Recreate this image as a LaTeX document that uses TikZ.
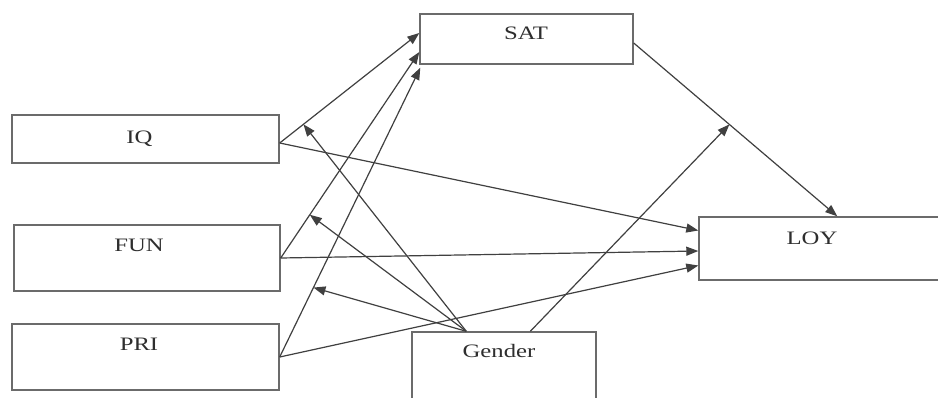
\documentclass[tikz,border=0pt]{standalone}
\usepackage{fontspec}
\setmainfont{Liberation Serif}
\usetikzlibrary{arrows.meta,calc}
\definecolor{boxgray}{gray}{0.42}
\definecolor{linegray}{gray}{0.25}
\definecolor{textgray}{gray}{0.18}
\newcommand\wide[1]{\scalebox{1.3}[1]{#1}}
\begin{document}
\begin{tikzpicture}[x=1pt,y=-1pt,
  box/.style={draw=boxgray,line width=1.4pt,inner sep=0pt},
  lbl/.style={text=textgray,font=\fontsize{19}{19}\selectfont,inner sep=0pt,anchor=base},
  arr/.style={draw=linegray,line width=1.2pt,-{Triangle[length=12pt,width=9pt]}},
  ln/.style={draw=linegray,line width=1.2pt}]
\useasboundingbox[fill=white] (0,0) rectangle (938,397);

% boxes
\node[box,minimum width=267pt,minimum height=48pt] (iq) at (145.5,139) {};
\node[box,minimum width=266pt,minimum height=66pt] (fun) at (147,258) {};
\node[box,minimum width=267pt,minimum height=66pt] (pri) at (145.5,357) {};
\node[box,minimum width=213pt,minimum height=50pt] (sat) at (526.5,39) {};
\node[box,minimum width=261pt,minimum height=63pt] (loy) at (829.5,248.5) {};
\node[box,minimum width=184pt,minimum height=88pt] (gender) at (504,376) {};

% labels
\node[lbl] (iqt) at (139.5,143) {\wide{IQ}};
\node[lbl] (funt) at (139,251) {\wide{FUN}};
\node[lbl] (prit) at (139,350) {\wide{PRI}};
\node[lbl] (satt) at (526,39) {\wide{SAT}};
\node[lbl] (loyt) at (812,244) {\wide{LOY}};
\node[lbl] (gent) at (499,357) {\wide{Gender}};

% attachment points
\coordinate (iqR) at ($(iq.east)+(0,4)$);
\coordinate (funR) at ($(fun.east)$);
\coordinate (priR) at ($(pri.east)$);
\coordinate (satL1) at ($(sat.west)+(0,-6)$);
\coordinate (satL2) at ($(sat.west)+(0,13)$);
\coordinate (satL3) at ($(sat.south west)+(1,3)$);
\coordinate (satR) at ($(sat.east)+(0,4)$);
\coordinate (loyL1) at ($(loy.west)+(0,-18)$);
\coordinate (loyL2) at ($(loy.west)+(0,2.5)$);
\coordinate (loyL3) at ($(loy.west)+(0,17)$);
\coordinate (loyT) at ($(loy.north west)+(139,0)$);
\coordinate (genA) at ($(gender.north west)+(55,0)$);
\coordinate (genB) at ($(gender.north west)+(119,0)$);

% moderation targets on paths
\coordinate (m1) at ($(iqR)!0.17!(satL1)$);
\coordinate (m2) at ($(funR)!0.21!(satL2)$);
\coordinate (m3) at ($(priR)!0.24!(satL3)$);
\coordinate (m4) at ($(satR)!0.47!(loyT)$);

% direct paths
\draw[arr] (iqR) -- (satL1);
\draw[arr] (funR) -- (satL2);
\draw[arr] (priR) -- (satL3);
\draw[arr] (iqR) -- (loyL1);
\draw[arr] (funR) -- (loyL2);
\draw[arr] (priR) -- (loyL3);
\draw[arr] (satR) -- (loyT);

% gender moderation
\draw[arr] (genA) -- (m1);
\draw[arr] (genA) -- (m2);
\draw[arr] (genA) -- (m3);
\draw[arr] (genB) -- (m4);
\end{tikzpicture}
\end{document}
